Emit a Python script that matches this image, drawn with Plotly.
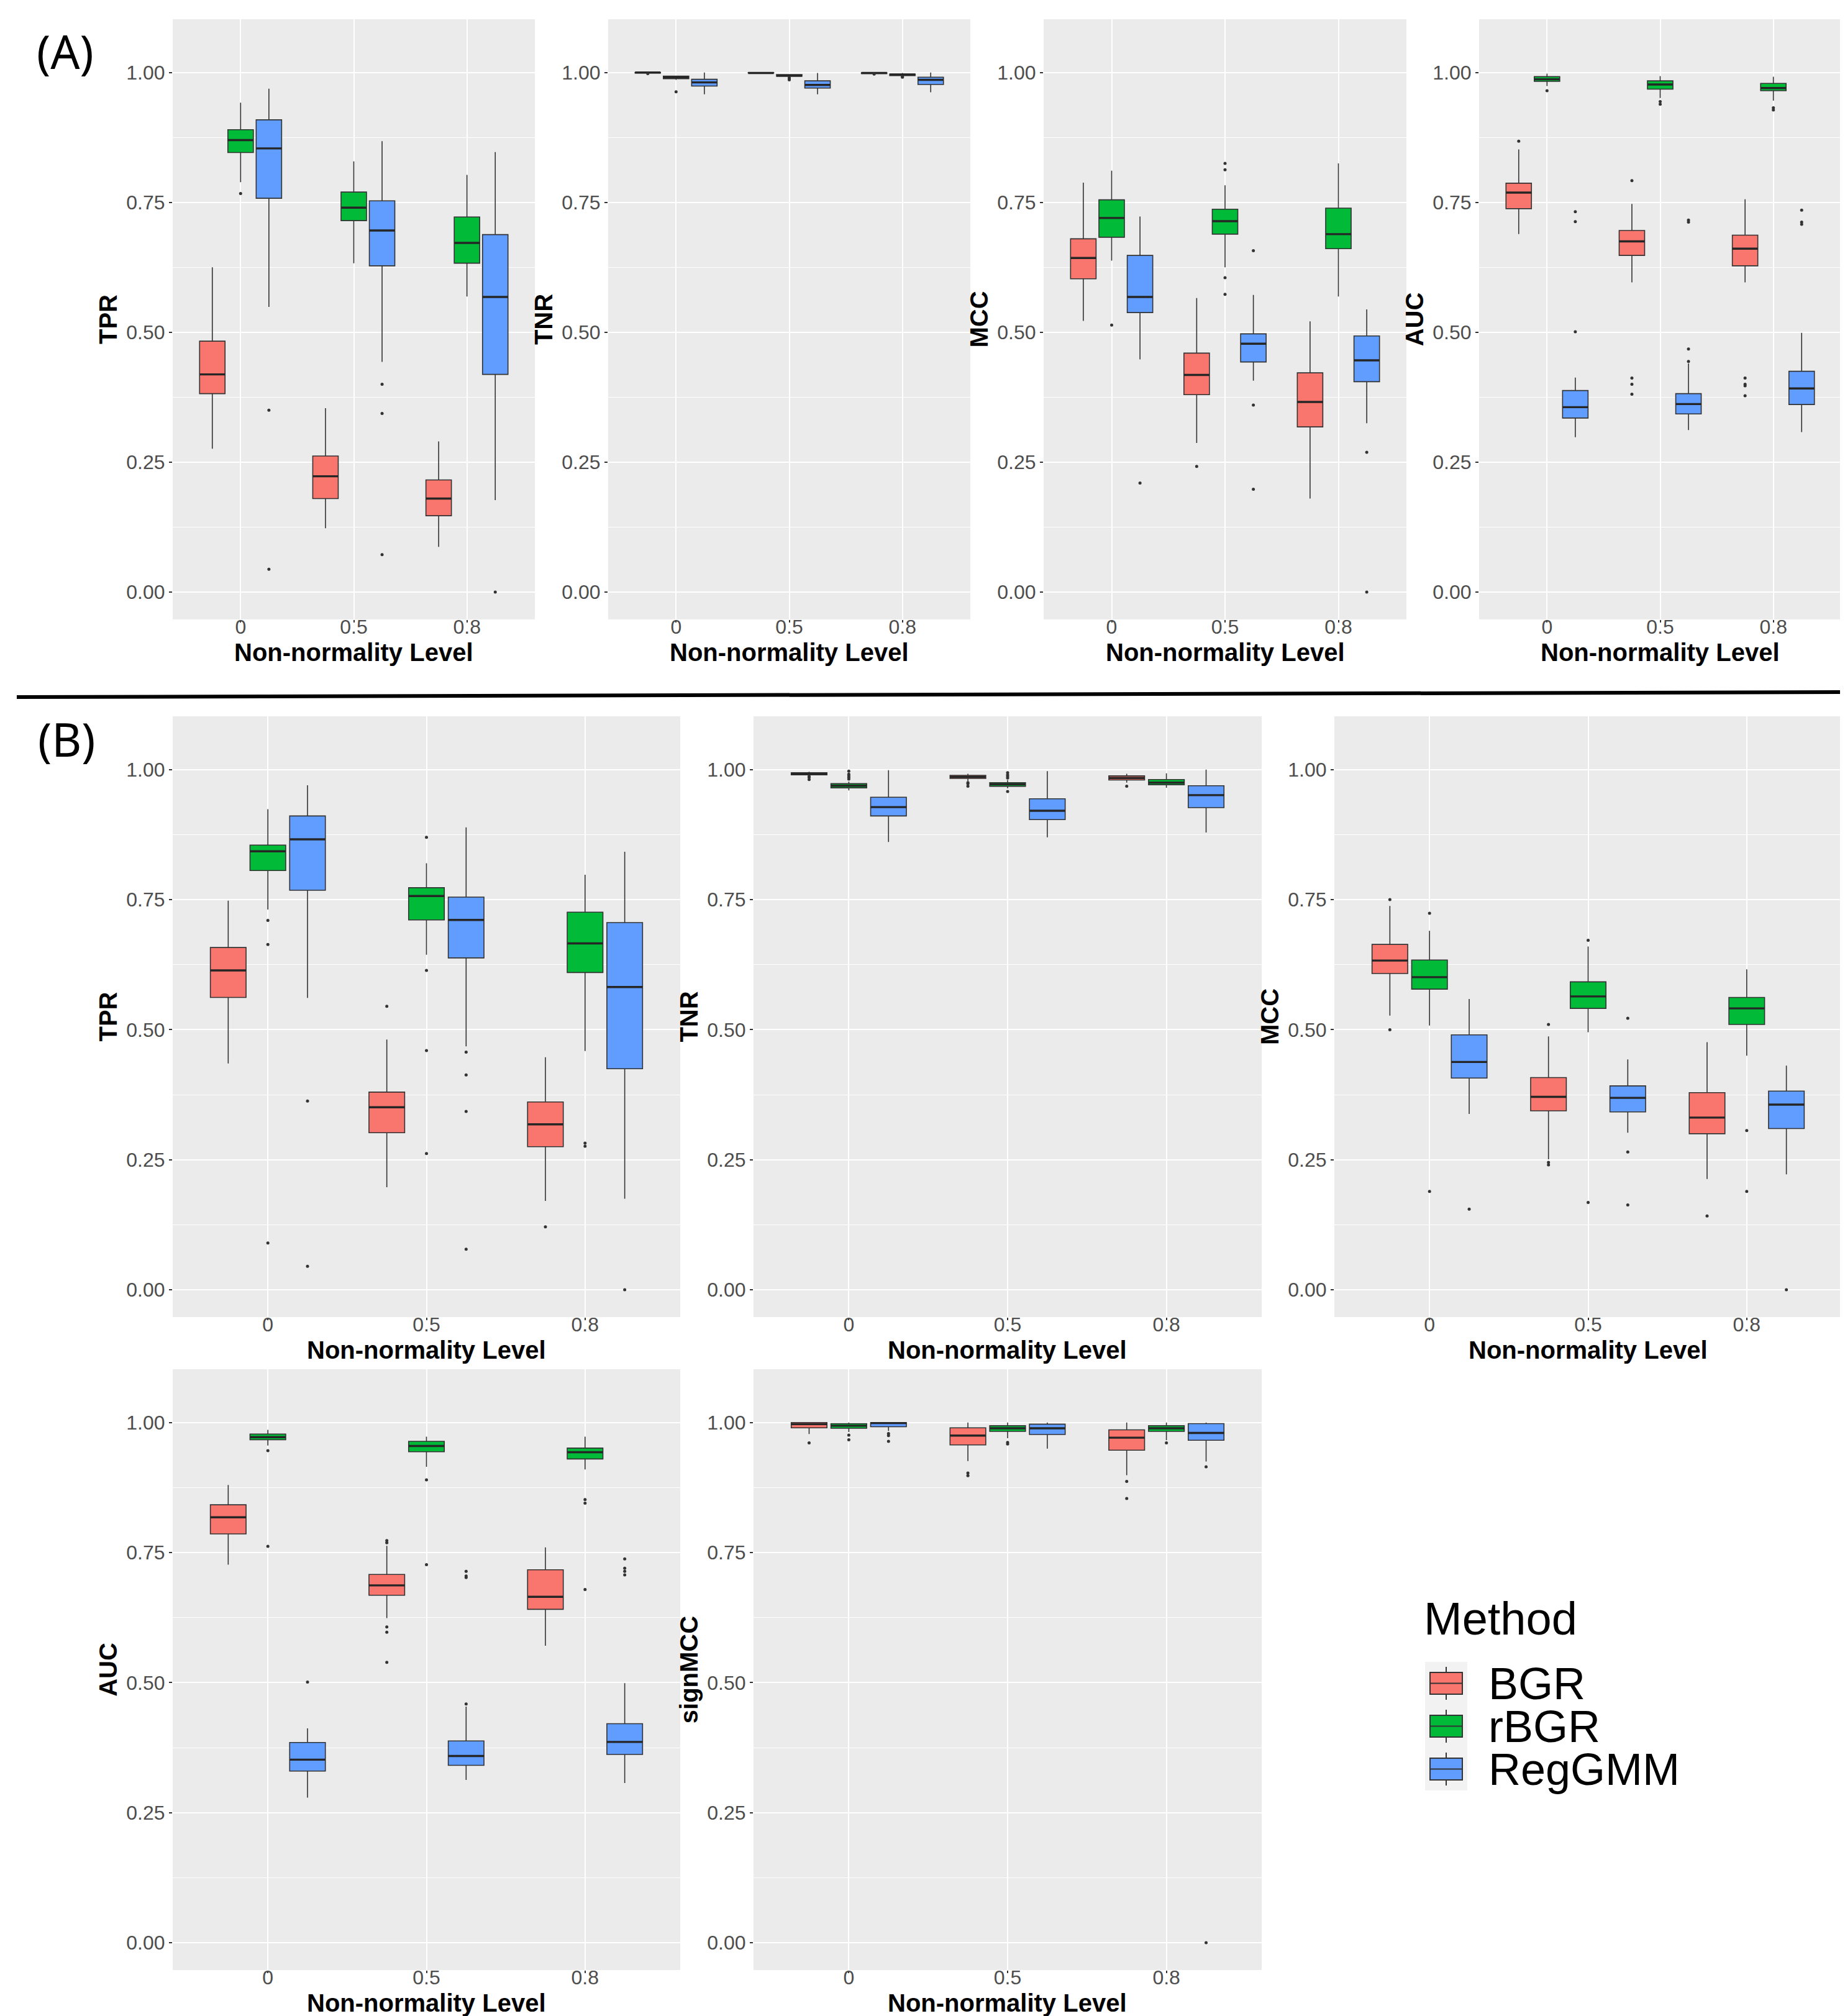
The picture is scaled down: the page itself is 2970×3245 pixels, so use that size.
import plotly.graph_objects as go

W, H = 2970, 3245

LEVELS = ["0", "0.5", "0.8"]
METHODS = ["BGR", "rBGR", "RegGMM"]
COLORS = {"BGR": "#F8766D", "rBGR": "#00BA38", "RegGMM": "#619CFF"}

# per level: (lower whisker, q1, median, q3, upper whisker)
a_tpr = {
    "BGR":    [(0.276, 0.382, 0.419, 0.483, 0.625), (0.123, 0.180, 0.223, 0.262, 0.354), (0.087, 0.147, 0.180, 0.216, 0.290)],
    "rBGR":   [(0.789, 0.846, 0.870, 0.890, 0.942), (0.633, 0.715, 0.740, 0.770, 0.829), (0.569, 0.633, 0.672, 0.722, 0.803)],
    "RegGMM": [(0.549, 0.758, 0.854, 0.909, 0.969), (0.443, 0.628, 0.696, 0.753, 0.868), (0.177, 0.419, 0.568, 0.688, 0.847)],
}
a_tpr_out = {"BGR": [[], [], []], "rBGR": [[0.767], [], []],
             "RegGMM": [[0.350, 0.044], [0.400, 0.344, 0.072], [0.0]]}

a_tnr = {
    "BGR":    [(0.999, 0.999, 1.0, 1.0, 1.0), (0.999, 0.999, 0.999, 1.0, 1.0), (0.998, 0.998, 0.999, 0.9995, 1.0)],
    "rBGR":   [(0.986, 0.988, 0.991, 0.993, 0.994), (0.992, 0.993, 0.994, 0.996, 0.997), (0.993, 0.994, 0.996, 0.997, 0.999)],
    "RegGMM": [(0.958, 0.974, 0.981, 0.987, 1.0), (0.958, 0.970, 0.976, 0.984, 0.999), (0.962, 0.977, 0.986, 0.991, 1.0)],
}
a_tnr_out = {"BGR": [[0.998], [], [0.997]], "rBGR": [[0.963], [0.990, 0.988, 0.986], [0.992, 0.991]],
             "RegGMM": [[], [], []]}

a_mcc = {
    "BGR":    [(0.522, 0.603, 0.643, 0.680, 0.788), (0.287, 0.380, 0.418, 0.460, 0.566), (0.180, 0.318, 0.366, 0.422, 0.521)],
    "rBGR":   [(0.638, 0.683, 0.720, 0.755, 0.811), (0.625, 0.689, 0.714, 0.737, 0.783), (0.569, 0.661, 0.689, 0.739, 0.825)],
    "RegGMM": [(0.448, 0.538, 0.568, 0.648, 0.723), (0.407, 0.443, 0.478, 0.497, 0.572), (0.325, 0.405, 0.446, 0.493, 0.544)],
}
a_mcc_out = {"BGR": [[], [0.242], []], "rBGR": [[0.514], [0.825, 0.813, 0.605, 0.573], []],
             "RegGMM": [[0.210], [0.657, 0.360, 0.198], [0.269, 0.0]]}

a_auc = {
    "BGR":    [(0.689, 0.738, 0.769, 0.787, 0.852), (0.596, 0.648, 0.675, 0.696, 0.747), (0.596, 0.628, 0.661, 0.687, 0.756)],
    "rBGR":   [(0.974, 0.983, 0.987, 0.992, 0.998), (0.951, 0.968, 0.977, 0.984, 0.993), (0.946, 0.965, 0.970, 0.979, 0.992)],
    "RegGMM": [(0.298, 0.335, 0.356, 0.388, 0.413), (0.312, 0.343, 0.362, 0.382, 0.440), (0.308, 0.361, 0.392, 0.425, 0.499)],
}
a_auc_out = {"BGR": [[0.868], [0.792, 0.412, 0.400, 0.381], [0.412, 0.400, 0.397, 0.378]],
             "rBGR": [[0.965], [0.944, 0.939], [0.932, 0.928]],
             "RegGMM": [[0.732, 0.713, 0.501], [0.716, 0.712, 0.468, 0.444], [0.735, 0.712, 0.708]]}

b_tpr = {
    "BGR":    [(0.435, 0.562, 0.614, 0.658, 0.748), (0.197, 0.302, 0.351, 0.380, 0.481), (0.171, 0.275, 0.318, 0.361, 0.447)],
    "rBGR":   [(0.731, 0.806, 0.843, 0.855, 0.924), (0.644, 0.711, 0.757, 0.773, 0.820), (0.459, 0.610, 0.666, 0.726, 0.798)],
    "RegGMM": [(0.561, 0.768, 0.866, 0.911, 0.970), (0.468, 0.638, 0.711, 0.755, 0.889), (0.175, 0.425, 0.582, 0.706, 0.842)],
}
b_tpr_out = {"BGR": [[], [0.545], [0.121]],
             "rBGR": [[0.710, 0.664, 0.090], [0.870, 0.614, 0.460, 0.262], [0.282, 0.276]],
             "RegGMM": [[0.363, 0.045], [0.457, 0.413, 0.343, 0.078], [0.0]]}

b_tnr = {
    "BGR":    [(0.989, 0.990, 0.992, 0.994, 0.996), (0.978, 0.983, 0.986, 0.989, 0.992), (0.975, 0.980, 0.984, 0.988, 0.992)],
    "rBGR":   [(0.960, 0.965, 0.969, 0.973, 0.977), (0.964, 0.968, 0.972, 0.975, 0.980), (0.965, 0.971, 0.975, 0.981, 0.993)],
    "RegGMM": [(0.861, 0.911, 0.928, 0.947, 0.999), (0.870, 0.904, 0.921, 0.944, 0.997), (0.879, 0.927, 0.951, 0.969, 1.0)],
}
b_tnr_out = {"BGR": [[0.987, 0.985, 0.981], [0.975, 0.973, 0.968], [0.968]],
             "rBGR": [[0.997, 0.991, 0.988, 0.985, 0.982], [0.994, 0.990, 0.987, 0.984, 0.958], []],
             "RegGMM": [[], [], []]}

b_mcc = {
    "BGR":    [(0.527, 0.608, 0.633, 0.664, 0.738), (0.251, 0.344, 0.371, 0.408, 0.487), (0.213, 0.300, 0.331, 0.379, 0.476)],
    "rBGR":   [(0.508, 0.578, 0.601, 0.634, 0.690), (0.495, 0.541, 0.564, 0.592, 0.660), (0.450, 0.510, 0.541, 0.562, 0.616)],
    "RegGMM": [(0.338, 0.407, 0.438, 0.490, 0.559), (0.302, 0.342, 0.369, 0.392, 0.443), (0.222, 0.310, 0.356, 0.382, 0.431)],
}
b_mcc_out = {"BGR": [[0.750, 0.500], [0.510, 0.245, 0.240], [0.142]],
             "rBGR": [[0.724, 0.189], [0.672, 0.168], [0.306, 0.189]],
             "RegGMM": [[0.155], [0.522, 0.265, 0.163], [0.0]]}

b_auc = {
    "BGR":    [(0.727, 0.786, 0.818, 0.842, 0.880), (0.624, 0.668, 0.687, 0.708, 0.763), (0.571, 0.641, 0.665, 0.717, 0.760)],
    "rBGR":   [(0.956, 0.967, 0.972, 0.978, 0.986), (0.915, 0.944, 0.955, 0.964, 0.973), (0.910, 0.930, 0.943, 0.951, 0.973)],
    "RegGMM": [(0.279, 0.330, 0.352, 0.385, 0.412), (0.313, 0.341, 0.359, 0.388, 0.454), (0.307, 0.362, 0.386, 0.421, 0.499)],
}
b_auc_out = {"BGR": [[], [0.773, 0.769, 0.607, 0.597, 0.539], []],
             "rBGR": [[0.946, 0.762], [0.890, 0.727], [0.852, 0.845, 0.679]],
             "RegGMM": [[0.501], [0.459, 0.714, 0.705, 0.702], [0.738, 0.720, 0.714, 0.707]]}

b_signmcc = {
    "BGR":    [(0.978, 0.990, 0.997, 1.0, 1.0), (0.926, 0.957, 0.975, 0.990, 1.0), (0.899, 0.947, 0.971, 0.986, 1.0)],
    "rBGR":   [(0.982, 0.989, 0.994, 0.998, 1.0), (0.970, 0.983, 0.989, 0.994, 1.0), (0.966, 0.983, 0.989, 0.994, 1.0)],
    "RegGMM": [(0.984, 0.992, 0.999, 1.0, 1.0), (0.950, 0.977, 0.989, 0.997, 1.0), (0.925, 0.966, 0.980, 0.998, 1.0)],
}
b_signmcc_out = {"BGR": [[0.961], [0.903, 0.898], [0.887, 0.854]],
                 "rBGR": [[0.976, 0.967], [0.962, 0.959], [0.961]],
                 "RegGMM": [[0.979, 0.975, 0.964], [], [0.915, 0.0]]}

# (ylabel, stats, outliers, plot box in px: x0, x1, y0, y1)
panels = [
    ("TPR", a_tpr, a_tpr_out, (270, 853, 23, 989)),
    ("TNR", a_tnr, a_tnr_out, (971, 1554, 23, 989)),
    ("MCC", a_mcc, a_mcc_out, (1672, 2256, 23, 989)),
    ("AUC", a_auc, a_auc_out, (2373, 2956, 23, 989)),
    ("TPR", b_tpr, b_tpr_out, (270, 1087, 1145, 2112)),
    ("TNR", b_tnr, b_tnr_out, (1205, 2023, 1145, 2112)),
    ("MCC", b_mcc, b_mcc_out, (2140, 2957, 1145, 2112)),
    ("AUC", b_auc, b_auc_out, (270, 1087, 2196, 3163)),
    ("signMCC", b_signmcc, b_signmcc_out, (1205, 2023, 2196, 3163)),
]

FONT = "Liberation Sans, Arial, Helvetica, sans-serif"
DODGE = 0.75 / 3
BOXW = 0.225
XTITLE_GAP = 53   # px from the panel's bottom edge to the x title centre

fig = go.Figure()
layout = dict(width=W, height=H, margin=dict(l=0, r=0, t=0, b=0),
              paper_bgcolor="white", plot_bgcolor="#EBEBEB", showlegend=False,
              font=dict(family=FONT))
annotations = []

for n, (ylab, stats, outs, (x0, x1, y0, y1)) in enumerate(panels, start=1):
    sfx = "" if n == 1 else str(n)
    for k, m in enumerate(METHODS):
        off = DODGE * (k - 1)
        xs = [j + off for j in range(len(LEVELS))]
        s = stats[m]
        fig.add_trace(go.Box(
            x=xs, lowerfence=[v[0] for v in s], q1=[v[1] for v in s],
            median=[v[2] for v in s], q3=[v[3] for v in s], upperfence=[v[4] for v in s],
            width=BOXW, whiskerwidth=0, fillcolor=COLORS[m],
            line=dict(color="#333333", width=1.6), boxpoints=False,
            name=m, xaxis="x" + sfx, yaxis="y" + sfx, hoverinfo="skip"))
        # thicker median bar, as ggplot draws it
        mx, my = [], []
        for x, v in zip(xs, s):
            mx += [x - BOXW / 2, x + BOXW / 2, None]
            my += [v[2], v[2], None]
        fig.add_trace(go.Scatter(
            x=mx, y=my, mode="lines", line=dict(color="#262626", width=3.4),
            xaxis="x" + sfx, yaxis="y" + sfx, hoverinfo="skip"))
        ox = [j + off for j, vals in enumerate(outs[m]) for _ in vals]
        oy = [v for vals in outs[m] for v in vals]
        fig.add_trace(go.Scatter(
            x=ox, y=oy, mode="markers", marker=dict(size=5, color="#333333"),
            xaxis="x" + sfx, yaxis="y" + sfx, hoverinfo="skip"))

    layout["xaxis" + sfx] = dict(
        domain=[x0 / W, x1 / W], anchor="y" + sfx, range=[-0.6, 2.6],
        tickvals=list(range(len(LEVELS))), ticktext=LEVELS,
        showgrid=True, gridcolor="white", gridwidth=2, zeroline=False, showline=False,
        ticks="outside", ticklen=4, tickwidth=1.5, tickcolor="#333333",
        ticklabelstandoff=-20,
        tickfont=dict(size=32, color="#4D4D4D"))
    layout["yaxis" + sfx] = dict(
        domain=[1 - y1 / H, 1 - y0 / H], anchor="x" + sfx, range=[-0.0525, 1.1025],
        tickvals=[0, 0.25, 0.5, 0.75, 1.0], tickformat=".2f",
        showgrid=True, gridcolor="white", gridwidth=2, zeroline=False, showline=False,
        minor=dict(tickvals=[0.125, 0.375, 0.625, 0.875], showgrid=True,
                   gridcolor="white", gridwidth=1, ticks=""),
        ticks="outside", ticklen=5, tickwidth=1.5, tickcolor="#333333",
        tickfont=dict(size=32, color="#4D4D4D"),
        title=dict(text=ylab, standoff=2,
                   font=dict(size=40, color="black", weight="bold")))
    annotations.append(dict(text="Non-normality Level", x=(x0 + x1) / 2 / W,
                            y=1 - (y1 + XTITLE_GAP) / H,
                            xref="paper", yref="paper", showarrow=False,
                            xanchor="center", yanchor="middle",
                            font=dict(size=40, color="black", weight="bold")))


def px(x, y):
    return x / W, 1 - y / H


shapes = []

# separator between (A) and (B), slightly tilted as in the source figure
shapes.append(dict(type="line", xref="paper", yref="paper",
                   x0=19 / W, x1=1, y0=1 - 1114 / H, y1=1 - 1106 / H,
                   line=dict(color="black", width=6)))
# frame of the legend cell
shapes.append(dict(type="line", xref="paper", yref="paper",
                   x0=2960 / W, x1=2960 / W, y0=1 - 2193 / H, y1=1 - 3242 / H,
                   line=dict(color="#666666", width=3)))
shapes.append(dict(type="line", xref="paper", yref="paper",
                   x0=2027 / W, x1=2960 / W, y0=1 - 3242 / H, y1=1 - 3242 / H,
                   line=dict(color="#666666", width=3)))

for label, (lx, ly) in [("(A)", (97, 75)), ("(B)", (99, 1181))]:
    ax_, ay_ = px(lx, ly)
    annotations.append(dict(text=label, x=ax_, y=ay_, xref="paper", yref="paper",
                            showarrow=False, xanchor="center", yanchor="middle",
                            font=dict(size=74, color="black", family="Noto Sans, Open Sans, sans-serif")))

# legend drawn in the empty cell
KX0, KX1, KY0, KH = 2286, 2354, 2667, 69
shapes.append(dict(type="rect", xref="paper", yref="paper",
                   x0=KX0 / W, x1=KX1 / W, y0=1 - KY0 / H, y1=1 - (KY0 + KH * 3) / H,
                   fillcolor="#F2F2F2", line=dict(width=0), layer="above"))
tx, ty = px(2282, 2597)
annotations.append(dict(text="Method", x=tx, y=ty, xref="paper", yref="paper",
                        showarrow=False, xanchor="left", yanchor="middle",
                        font=dict(size=74, color="black")))
for k, m in enumerate(METHODS):
    top = KY0 + KH * k
    cx = (KX0 + KX1) / 2
    for (ya, yb) in [(top + 8, top + 17), (top + 52, top + 61)]:
        shapes.append(dict(type="line", xref="paper", yref="paper",
                           x0=cx / W, x1=cx / W, y0=1 - ya / H, y1=1 - yb / H,
                           line=dict(color="#333333", width=2), layer="above"))
    shapes.append(dict(type="rect", xref="paper", yref="paper",
                       x0=2294 / W, x1=2346 / W, y0=1 - (top + 17) / H, y1=1 - (top + 52) / H,
                       fillcolor=COLORS[m], line=dict(color="#333333", width=2), layer="above"))
    shapes.append(dict(type="line", xref="paper", yref="paper",
                       x0=2294 / W, x1=2346 / W, y0=1 - (top + 34.5) / H, y1=1 - (top + 34.5) / H,
                       line=dict(color="#333333", width=2), layer="above"))
    lx_, ly_ = px(2386, top + KH / 2)
    annotations.append(dict(text=m, x=lx_, y=ly_, xref="paper", yref="paper",
                            showarrow=False, xanchor="left", yanchor="middle",
                            font=dict(size=72, color="black")))

layout["shapes"] = shapes
layout["annotations"] = annotations
fig.update_layout(**layout)

fig.write_html("out.html")
